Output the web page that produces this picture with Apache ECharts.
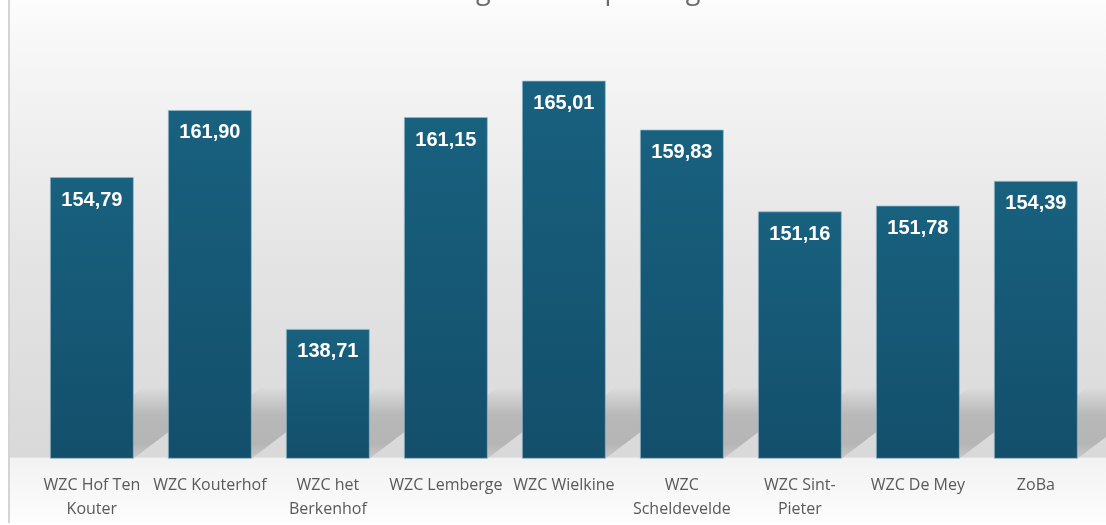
<!DOCTYPE html>
<html>
<head>
<meta charset="utf-8">
<title>Huidige kosten per dag</title>
<script src="https://cdn.jsdelivr.net/npm/echarts@6/dist/echarts.min.js"></script>
<style>
    body{margin:0;background:#fff;}
    #wrap{position:relative;width:1106px;height:525px;overflow:hidden;}
    #rand{position:absolute;left:8px;top:0;width:2px;height:523px;background:#d4d4d4;}
    #container{position:absolute;left:10px;top:0;width:1096px;height:523px;}
</style>
</head>
<body>
<div id="wrap">
    <div id="rand"></div>
    <div id="container"></div>
</div>
<script type="text/javascript">
    // categorieen en waarden
    var namen = ['WZC Hof Ten\nKouter', 'WZC Kouterhof', 'WZC het\nBerkenhof', 'WZC Lemberge', 'WZC Wielkine',
                 'WZC\nScheldevelde', 'WZC Sint-\nPieter', 'WZC De Mey', 'ZoBa'];
    var prijzen = [154.79, 161.90, 138.71, 161.15, 165.01, 159.83, 151.16, 151.78, 154.39];
    var titel = 'Huidige kosten per dag';
    var ymin = 125, ymax = 170;

    var mychart = echarts.init(document.getElementById('container'));

    function komma(v) {
        return v.toFixed(2).replace('.', ',');
    }

    // schaduw achter de staven (scheef naar rechtsboven)
    function schaduw(params, api) {
        var i = api.value(0);
        var p = api.coord([i, ymin]);
        var hw = 42, H = 72, dx = 95;
        return {
            type: 'polygon',
            shape: {points: [[p[0] - hw, p[1]], [p[0] + hw, p[1]], [p[0] + hw + dx, p[1] - H], [p[0] - hw + dx, p[1] - H]]},
            style: {
                fill: new echarts.graphic.LinearGradient(0, 0, 0, 1, [
                    {offset: 0, color: 'rgba(0,0,0,0)'},
                    {offset: 0.4, color: 'rgba(0,0,0,0.16)'},
                    {offset: 0.8, color: 'rgba(0,0,0,0.17)'},
                    {offset: 1, color: 'rgba(0,0,0,0.08)'}
                ])
            }
        };
    }

    var options = {
        backgroundColor: new echarts.graphic.LinearGradient(0, 0, 0, 1, [
            {offset: 0, color: '#fcfcfc'},
            {offset: 0.15, color: '#f4f4f4'},
            {offset: 0.5, color: '#e4e4e4'},
            {offset: 0.874, color: '#d9d9d9'},
            {offset: 0.876, color: '#f2f2f2'},
            {offset: 1, color: '#fdfdfd'}
        ]),
        title: {
            text: titel,
            left: 540,
            textAlign: 'center',
            top: -27,
            textStyle: {fontFamily: 'Open Sans', fontSize: 27, fontWeight: 'normal', color: '#6a6a6a'}
        },
        grid: {left: 22.85, right: 11.15, top: 33.5, bottom: 64.7},
        xAxis: [{
            type: 'category',
            data: namen,
            axisLine: {show: false},
            axisTick: {show: false},
            axisLabel: {
                interval: 0,
                margin: 15,
                fontFamily: 'Open Sans',
                fontSize: 16,
                lineHeight: 24,
                color: '#595959'
            }
        }],
        yAxis: [{
            type: 'value',
            min: ymin,
            max: ymax,
            show: false,
            splitLine: {show: false}
        }],
        series: [{
            type: 'custom',
            renderItem: schaduw,
            data: prijzen.map(function (v, i) { return [i, v]; }),
            z: 1,
            silent: true
        }, {
            type: 'bar',
            data: prijzen,
            barWidth: 84,
            z: 2,
            itemStyle: {
                color: new echarts.graphic.LinearGradient(0, 0, 0, 1, [
                    {offset: 0, color: '#18617f'},
                    {offset: 1, color: '#134f6b'}
                ]),
                borderColor: 'rgba(150,185,205,0.7)',
                borderWidth: 1
            },
            label: {
                show: true,
                position: 'insideTop',
                distance: 13,
                fontFamily: 'Liberation Sans',
                fontSize: 20,
                fontWeight: 'bold',
                color: '#ffffff',
                formatter: function (p) { return komma(p.value); }
            }
        }]
    };

    mychart.setOption(options);
</script>
</body>
</html>
